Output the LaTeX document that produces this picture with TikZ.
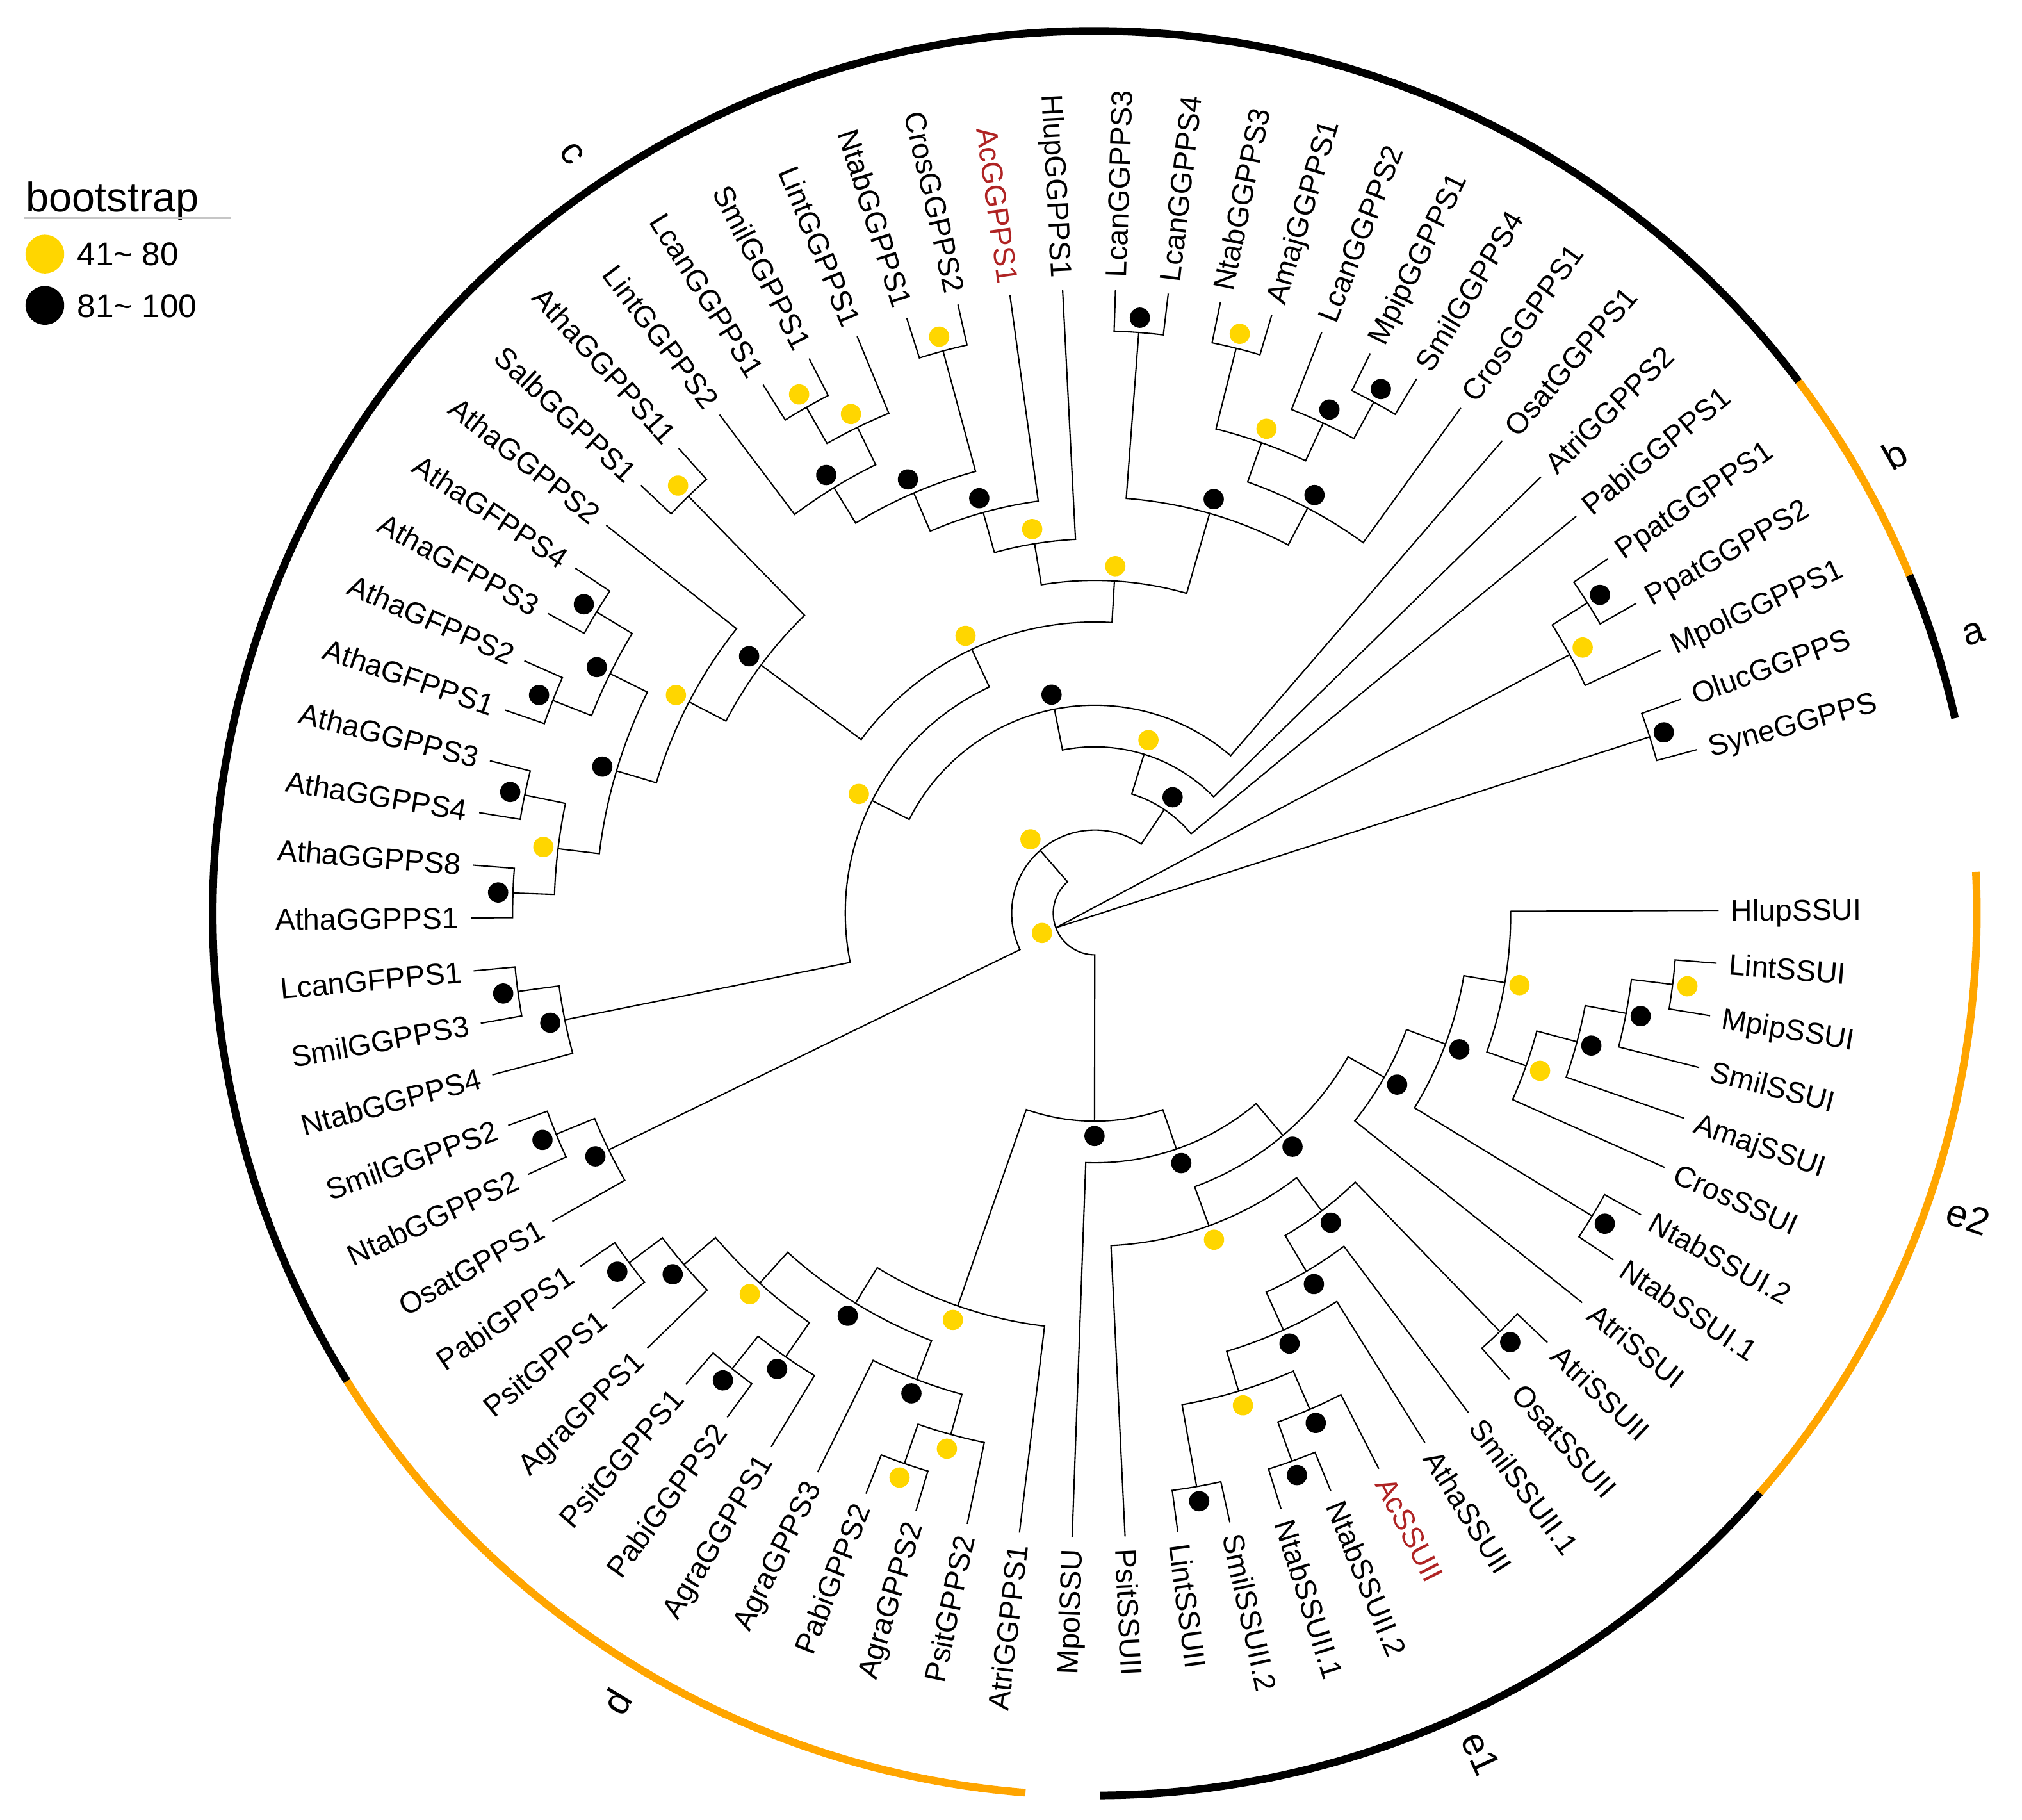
\documentclass[tikz,border=0pt]{standalone}
\usepackage{fontspec}
\setmainfont{Liberation Sans}
\definecolor{dotyel}{RGB}{255,214,0}
\definecolor{arcor}{RGB}{255,165,0}
\definecolor{accred}{RGB}{175,35,35}
\def\Uv{32.25}
\def\Aoff{15.2}
\def\Dst{4.86}
% internal node: name, level, child1, child2, dot colour
\newcommand\inode[5]{%
  \edef\tkCa{\csname ang#3\endcsname}%
  \edef\tkCb{\csname ang#4\endcsname}%
  \edef\tkLa{\csname lev#3\endcsname}%
  \edef\tkLb{\csname lev#4\endcsname}%
  \pgfmathsetmacro\tkRa{\tkLa*\Uv}%
  \pgfmathsetmacro\tkRb{\tkLb*\Uv}%
  \pgfmathsetmacro\tkR{#2*\Uv}%
  \pgfmathsetmacro\tkRd{#2*\Uv+11.5}%
  \pgfmathsetmacro\tkM{(\tkCa+\tkCb)/2}%
  \expandafter\xdef\csname ang#1\endcsname{\tkM}%
  \expandafter\xdef\csname lev#1\endcsname{#2}%
  \coordinate (#1) at (\tkM:\tkR);
  \draw[branch] (\tkCa:\tkRa) -- (\tkCa:\tkR) arc[start angle=\tkCa, end angle=\tkCb, radius=\tkR] -- (\tkCb:\tkRb);
  \fill[#5] (\tkM:\tkRd) circle[radius=7.85];
}
\begin{document}
\begin{tikzpicture}[x=0.020134cm,y=0.020134cm,
  branch/.style={line width=0.6pt, black},
  leaflab/.style={font=\fontsize{13.2}{15}\selectfont, inner sep=0pt, text height=9.4pt, text depth=0pt},
  cladearc/.style={line width=3.4pt},
  cladelab/.style={font=\fontsize{17}{19}\selectfont, inner sep=0pt}]
\useasboundingbox (-849,-703) rectangle (719,708);

% leaves
\foreach \i/\lab/\col in {
0/SyneGGPPS/black, 1/OlucGGPPS/black, 2/MpolGGPPS1/black, 3/PpatGGPPS2/black,
4/PpatGGPPS1/black, 5/PabiGGPPS1/black, 6/AtriGGPPS2/black, 7/OsatGGPPS1/black,
8/CrosGGPPS1/black, 9/SmilGGPPS4/black, 10/MpipGGPPS1/black, 11/LcanGGPPS2/black,
12/AmajGGPPS1/black, 13/NtabGGPPS3/black, 14/LcanGGPPS4/black, 15/LcanGGPPS3/black,
16/HlupGGPPS1/black, 17/AcGGPPS1/accred, 18/CrosGGPPS2/black, 19/NtabGGPPS1/black,
20/LintGGPPS1/black, 21/SmilGGPPS1/black, 22/LcanGGPPS1/black, 23/LintGGPPS2/black,
24/AthaGGPPS11/black, 25/SalbGGPPS1/black, 26/AthaGGPPS2/black, 27/AthaGFPPS4/black,
28/AthaGFPPS3/black, 29/AthaGFPPS2/black, 30/AthaGFPPS1/black, 31/AthaGGPPS3/black,
32/AthaGGPPS4/black, 33/AthaGGPPS8/black, 34/AthaGGPPS1/black, 35/LcanGFPPS1/black,
36/SmilGGPPS3/black, 37/NtabGGPPS4/black, 38/SmilGGPPS2/black, 39/NtabGGPPS2/black,
40/OsatGPPS1/black, 41/PabiGPPS1/black, 42/PsitGPPS1/black, 43/AgraGPPS1/black,
44/PsitGGPPS1/black, 45/PabiGGPPS2/black, 46/AgraGGPPS1/black, 47/AgraGPPS3/black,
48/PabiGPPS2/black, 49/AgraGPPS2/black, 50/PsitGPPS2/black, 51/AtriGGPPS1/black,
52/MpolSSU/black, 53/PsitSSUII/black, 54/LintSSUII/black, 55/SmilSSUII.2/black,
56/NtabSSUII.1/black, 57/NtabSSUII.2/black, 58/AcSSUII/accred, 59/AthaSSUII/black,
60/SmilSSUII.1/black, 61/OsatSSUII/black, 62/AtriSSUII/black, 63/AtriSSUI/black,
64/NtabSSUI.1/black, 65/NtabSSUI.2/black, 66/CrosSSUI/black, 67/AmajSSUI/black,
68/SmilSSUI/black, 69/MpipSSUI/black, 70/LintSSUI/black, 71/HlupSSUI/black}{%
  \pgfmathsetmacro\tkTh{\Aoff+\Dst*\i}%
  \expandafter\xdef\csname angl\i\endcsname{\tkTh}%
  \expandafter\xdef\csname levl\i\endcsname{15}%
  \pgfmathtruncatemacro\tkLft{and(\tkTh>90,\tkTh<270)}%
  \ifnum\tkLft=1
    \pgfmathsetmacro\tkRot{\tkTh-180}%
    \node[leaflab, text=\col, rotate=\tkRot, anchor=east] (lab\i) at (\tkTh:493) {\lab};
  \else
    \node[leaflab, text=\col, rotate=\tkTh, anchor=west] (lab\i) at (\tkTh:493) {\lab};
  \fi
}

% internal nodes (bottom-up)
\inode{pSyne}{14}{l0}{l1}{black}
\inode{pPpat}{14}{l3}{l4}{black}
\inode{pMpol}{13}{l2}{pPpat}{dotyel}
\inode{pMS}{14}{l9}{l10}{black}
\inode{pLcb}{13}{l11}{pMS}{black}
\inode{pNA}{14}{l12}{l13}{dotyel}
\inode{pTbb}{12}{pLcb}{pNA}{dotyel}
\inode{pTba}{11}{l8}{pTbb}{black}
\inode{pLcc}{14}{l14}{l15}{black}
\inode{pTb}{10}{pTba}{pLcc}{black}
\inode{pSL}{14}{l21}{l22}{dotyel}
\inode{pTad}{13}{l20}{pSL}{dotyel}
\inode{pTac}{12}{pTad}{l23}{black}
\inode{pCN}{14}{l18}{l19}{dotyel}
\inode{pTab}{11}{pCN}{pTac}{black}
\inode{pTaa}{10}{l17}{pTab}{black}
\inode{pTa}{9}{l16}{pTaa}{dotyel}
\inode{pT}{8}{pTb}{pTa}{dotyel}
\inode{pAS}{14}{l24}{l25}{dotyel}
\inode{pGFa}{14}{l27}{l28}{black}
\inode{pGFb}{14}{l29}{l30}{black}
\inode{pGF}{13}{pGFa}{pGFb}{black}
\inode{pGGa}{14}{l31}{l32}{black}
\inode{pGGb}{14}{l33}{l34}{black}
\inode{pGG}{13}{pGGa}{pGGb}{dotyel}
\inode{pQ}{12}{pGF}{pGG}{black}
\inode{pSa}{11}{l26}{pQ}{dotyel}
\inode{pS}{10}{pAS}{pSa}{black}
\inode{pV}{7}{pT}{pS}{dotyel}
\inode{pLS}{14}{l35}{l36}{black}
\inode{pLSN}{13}{pLS}{l37}{black}
\inode{pW}{6}{pV}{pLSN}{dotyel}
\inode{pZ}{5}{l7}{pW}{black}
\inode{pY}{4}{l6}{pZ}{dotyel}
\inode{pX}{3}{l5}{pY}{black}
\inode{pSN}{14}{l38}{l39}{black}
\inode{pSNO}{13}{pSN}{l40}{black}
\inode{pU}{2}{pX}{pSNO}{dotyel}
\inode{pPP}{14}{l41}{l42}{black}
\inode{pDa}{13}{pPP}{l43}{black}
\inode{pPsPa}{14}{l44}{l45}{black}
\inode{pDb}{13}{pPsPa}{l46}{black}
\inode{pDab}{12}{pDa}{pDb}{dotyel}
\inode{pPA}{14}{l48}{l49}{dotyel}
\inode{pDc}{13}{pPA}{l50}{dotyel}
\inode{pDcc}{12}{l47}{pDc}{black}
\inode{pDe}{11}{pDab}{pDcc}{black}
\inode{pD}{10}{pDe}{l51}{dotyel}
\inode{pLSb}{14}{l54}{l55}{black}
\inode{pNSb}{14}{l56}{l57}{black}
\inode{pEm}{13}{pNSb}{l58}{black}
\inode{pEl}{12}{pLSb}{pEm}{dotyel}
\inode{pEk}{11}{pEl}{l59}{black}
\inode{pEj}{10}{pEk}{l60}{black}
\inode{pOA}{14}{l61}{l62}{black}
\inode{pEi}{9}{pEj}{pOA}{black}
\inode{pEh}{8}{l53}{pEi}{dotyel}
\inode{pML}{14}{l69}{l70}{dotyel}
\inode{pFm}{13}{l68}{pML}{black}
\inode{pFl}{12}{l67}{pFm}{black}
\inode{pFk}{11}{l66}{pFl}{dotyel}
\inode{pFj}{10}{pFk}{l71}{dotyel}
\inode{pNSa}{14}{l64}{l65}{black}
\inode{pFi}{9}{pNSa}{pFj}{black}
\inode{pFh}{8}{l63}{pFi}{black}
\inode{pEg}{7}{pEh}{pFh}{black}
\inode{pEf}{6}{l52}{pEg}{black}
\inode{pEe}{5}{pD}{pEf}{black}
\inode{pR}{1}{pU}{pEe}{dotyel}

% lines from the root to the two outgroup clades
\edef\tkRoot{\csname angpR\endcsname}
\coordinate (P0) at (\tkRoot:\Uv);
\draw[branch] (P0) -- (pSyne);
\draw[branch] (P0) -- (pMpol);

% clade arcs
\draw[cladearc, black] (12.77:684) arc[start angle=12.77, end angle=22.53, radius=684];
\draw[cladearc, arcor] (22.53:684) arc[start angle=22.53, end angle=37.07, radius=684];
\draw[cladearc, black] (37.07:684) arc[start angle=37.07, end angle=212.03, radius=684];
\draw[cladearc, arcor] (212.03:684) arc[start angle=212.03, end angle=265.49, radius=684];
\draw[cladearc, black] (270.35:684) arc[start angle=270.35, end angle=318.95, radius=684];
\draw[cladearc, arcor] (318.95:684) arc[start angle=318.95, end angle=362.69, radius=684];

\node[cladelab, rotate=17.65] (cla) at (17.65:715) {a};
\node[cladelab, rotate=29.8] (clb) at (29.8:715) {b};
\node[cladelab, rotate=-55.45] (clc) at (124.55:715) {c};
\node[cladelab, rotate=58.76] (cld) at (238.76:715) {d};
\node[cladelab, rotate=294.65] (cle1) at (294.65:717) {e1};
\node[cladelab, rotate=340.82] (cle2) at (340.82:717) {e2};

% legend
\node[anchor=base west, inner sep=0pt, font=\fontsize{18.4}{20}\selectfont] (legT) at (-829,544) {bootstrap};
\draw[gray!45, line width=0.9pt] (-830,539) -- (-670,539);
\fill[dotyel] (-814.2,511) circle[radius=15];
\fill[black] (-814.2,471.2) circle[radius=15];
\node[anchor=base west, inner sep=0pt, font=\fontsize{14.6}{16}\selectfont] (legA) at (-789.4,502) {41\textasciitilde{} 80};
\node[anchor=base west, inner sep=0pt, font=\fontsize{14.6}{16}\selectfont] (legB) at (-789.4,462) {81\textasciitilde{} 100};
\end{tikzpicture}
\end{document}
